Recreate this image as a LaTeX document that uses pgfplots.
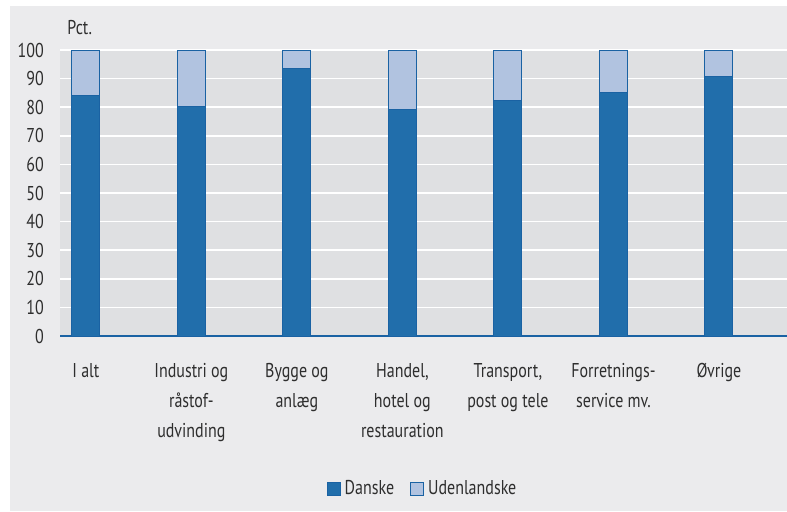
\documentclass[border=0pt]{standalone}
\usepackage{fontspec}
\setmainfont{PT Sans}[FakeStretch=0.8]
\usepackage{pgfplots}
\pgfplotsset{compat=1.18}

\definecolor{outerbg}{HTML}{EBEBED}
\definecolor{plotbg}{HTML}{DFE0E2}
\definecolor{dk}{HTML}{216EAB}
\definecolor{dkedge}{HTML}{1A62A3}
\definecolor{lt}{HTML}{B1C3E0}
\definecolor{txt}{HTML}{2E2E2E}

\begin{document}
\begin{tikzpicture}
\useasboundingbox (0,0) rectangle (393.5pt,255.5pt);
\fill[white] (0,0) rectangle (393.5pt,255.5pt);
\fill[outerbg] (5pt,0) rectangle (393.5pt,252.5pt);
\node[anchor=west,inner sep=0pt,font=\fontsize{10}{12}\selectfont,text=txt] at (33.5pt,241.5pt) {Pct.};
\begin{axis}[
  at={(30pt,87.5pt)},anchor=south west,
  scale only axis,width=363.5pt,height=143pt,
  ybar stacked,bar width=14pt,
  xmin=-0.245,xmax=6.645,ymin=0,ymax=100,
  ytick={0,10,...,100},
  xtick=data,
  xticklabels={I alt,{Industri og\\råstof-\\udvinding},{Bygge og\\anlæg},{Handel,\\hotel og\\restauration},{Transport,\\post og tele},{Forretnings-\\service mv.},Øvrige},
  major tick length=0pt,
  /pgf/number format/assume math mode=true,
  axis line style={draw=none},
  axis background/.style={fill=plotbg},
  ymajorgrids,
  grid style={white,line width=0.8pt},
  tick label style={font=\fontsize{10}{15}\selectfont,text=txt},
  yticklabel style={xshift=-4.6pt},
  xticklabel style={align=center,yshift=-10pt},
  legend style={at={(0.5,-0.535)},anchor=center,draw=none,fill=none,
    legend columns=2,font=\fontsize{10}{12}\selectfont,text=txt,
    /tikz/every even column/.append style={column sep=6pt}},
  legend image code/.code={\draw[#1] (0pt,-3.2pt) rectangle (6.5pt,3.3pt);},
]
\addplot[fill=dk,draw=dkedge,line width=0.5pt] coordinates {(0,84) (1,80.4) (2,93.6) (3,79.2) (4,82.4) (5,85.2) (6,90.9)};
\addlegendentry{Danske}
\addplot[fill=lt,draw=dkedge,line width=0.5pt] coordinates {(0,16) (1,19.6) (2,6.4) (3,20.8) (4,17.6) (5,14.8) (6,9.1)};
\addlegendentry{Udenlandske}
\draw[dkedge,line width=0.8pt] (axis cs:-0.245,0) -- (axis cs:6.645,0);
\end{axis}
\end{tikzpicture}
\end{document}
